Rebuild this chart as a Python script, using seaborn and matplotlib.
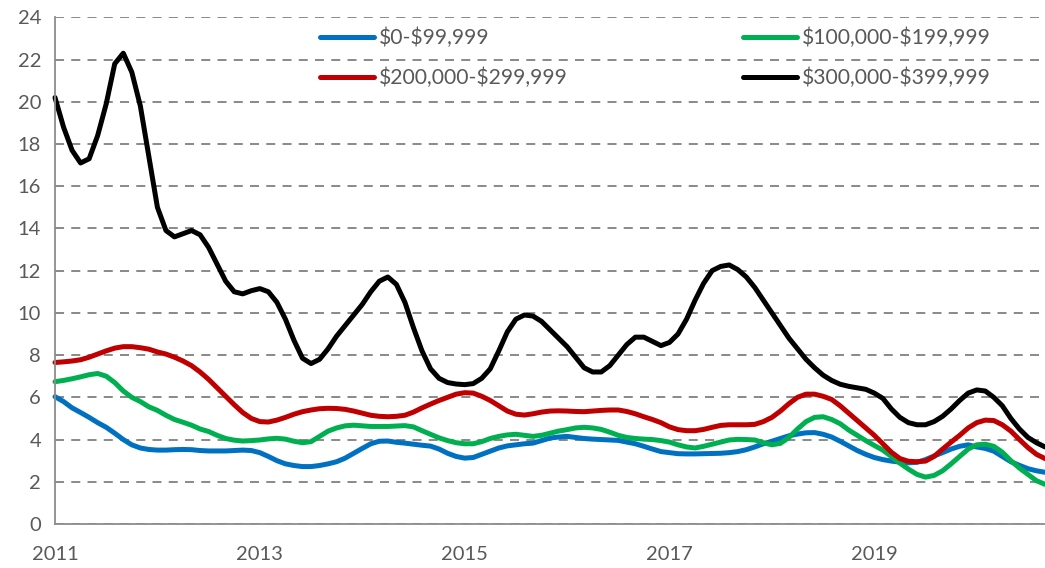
import numpy as np
import pandas as pd
import matplotlib
matplotlib.use("Agg")
import matplotlib.pyplot as plt
import seaborn as sns
from matplotlib.lines import Line2D

# ---- data (monthly, Jan 2011 .. Sep 2020) ----
start_year = 2011
n_months = 117

s0_99 = [6.03, 5.8, 5.5, 5.28, 5.05, 4.8, 4.58, 4.3, 4.0, 3.75, 3.6, 3.53,
         3.5, 3.5, 3.52, 3.53, 3.52, 3.48, 3.46, 3.46, 3.46, 3.48, 3.5, 3.48,
         3.38, 3.2, 3.0, 2.85, 2.77, 2.72, 2.72, 2.77, 2.85, 2.95, 3.12, 3.35,
         3.58, 3.8, 3.92, 3.93, 3.87, 3.83, 3.78, 3.73, 3.69, 3.55, 3.35, 3.2,
         3.12, 3.15, 3.3, 3.45, 3.6, 3.7, 3.75, 3.8, 3.83, 3.95, 4.07, 4.12,
         4.15, 4.1, 4.05, 4.02, 4.0, 3.98, 3.96, 3.88, 3.8, 3.68, 3.55, 3.43,
         3.38, 3.33, 3.32, 3.32, 3.33, 3.34, 3.35, 3.38, 3.43, 3.52, 3.65, 3.8,
         3.92, 4.05, 4.18, 4.26, 4.32, 4.33, 4.25, 4.12, 3.92, 3.7, 3.48, 3.3,
         3.15, 3.05, 2.98, 2.93, 2.9, 2.92, 3.05, 3.22, 3.38, 3.55, 3.68, 3.75,
         3.65, 3.58, 3.45, 3.2, 2.95, 2.78, 2.62, 2.52, 2.45]

s100_199 = [6.74, 6.8, 6.88, 6.97, 7.07, 7.13, 7.0, 6.7, 6.3, 6.0, 5.8, 5.55,
            5.38, 5.15, 4.95, 4.82, 4.68, 4.5, 4.38, 4.2, 4.05, 3.97, 3.93, 3.95,
            3.98, 4.03, 4.06, 4.02, 3.92, 3.85, 3.9, 4.15, 4.4, 4.55, 4.65, 4.68,
            4.65, 4.62, 4.62, 4.62, 4.64, 4.66, 4.6, 4.42, 4.25, 4.08, 3.95, 3.85,
            3.8, 3.8, 3.9, 4.05, 4.15, 4.22, 4.25, 4.2, 4.15, 4.2, 4.3, 4.4,
            4.47, 4.55, 4.58, 4.55, 4.48, 4.35, 4.2, 4.1, 4.05, 4.02, 4.0, 3.95,
            3.88, 3.75, 3.65, 3.6, 3.68, 3.78, 3.88, 3.98, 4.01, 4.0, 3.98, 3.85,
            3.75, 3.82, 4.1, 4.5, 4.85, 5.05, 5.08, 4.95, 4.75, 4.45, 4.2, 3.95,
            3.72, 3.5, 3.2, 2.88, 2.6, 2.35, 2.22, 2.3, 2.52, 2.85, 3.2, 3.55,
            3.75, 3.78, 3.68, 3.4, 3.0, 2.65, 2.35, 2.05, 1.88]

s200_299 = [7.65, 7.68, 7.72, 7.78, 7.9, 8.05, 8.2, 8.33, 8.4, 8.4, 8.35, 8.28,
            8.15, 8.05, 7.9, 7.72, 7.5, 7.2, 6.85, 6.45, 6.05, 5.65, 5.28, 5.0,
            4.85, 4.83, 4.92, 5.05, 5.2, 5.32, 5.4, 5.46, 5.48, 5.47, 5.43, 5.35,
            5.25, 5.15, 5.1, 5.08, 5.1, 5.15, 5.3, 5.5, 5.68, 5.85, 6.0, 6.15,
            6.22, 6.2, 6.05, 5.85, 5.6, 5.35, 5.2, 5.16, 5.22, 5.3, 5.35, 5.36,
            5.35, 5.33, 5.32, 5.35, 5.38, 5.4, 5.4, 5.33, 5.22, 5.08, 4.95, 4.8,
            4.6, 4.47, 4.42, 4.42, 4.48, 4.58, 4.67, 4.7, 4.7, 4.7, 4.72, 4.85,
            5.05, 5.35, 5.7, 6.0, 6.15, 6.15, 6.05, 5.9, 5.6, 5.25, 4.9, 4.55,
            4.2, 3.8, 3.4, 3.1, 2.97, 2.95, 2.98, 3.2, 3.55, 3.88, 4.2, 4.55,
            4.8, 4.92, 4.9, 4.7, 4.4, 4.0, 3.62, 3.3, 3.1]

s300_399 = [20.2, 18.8, 17.7, 17.1, 17.3, 18.4, 19.9, 21.8, 22.3, 21.4, 19.8, 17.4,
            15.0, 13.9, 13.6, 13.75, 13.9, 13.7, 13.1, 12.3, 11.5, 11.0, 10.9, 11.05,
            11.15, 11.0, 10.5, 9.7, 8.7, 7.85, 7.6, 7.8, 8.3, 8.9, 9.4, 9.9,
            10.4, 11.0, 11.5, 11.7, 11.35, 10.5, 9.3, 8.2, 7.35, 6.9, 6.7, 6.63,
            6.6, 6.65, 6.9, 7.35, 8.2, 9.1, 9.7, 9.9, 9.85, 9.6, 9.2, 8.8,
            8.4, 7.9, 7.4, 7.2, 7.2, 7.5, 8.0, 8.5, 8.85, 8.85, 8.65, 8.45,
            8.6, 9.0, 9.7, 10.6, 11.4, 12.0, 12.2, 12.27, 12.05, 11.7, 11.2, 10.6,
            10.0, 9.4, 8.8, 8.3, 7.8, 7.4, 7.05, 6.8, 6.62, 6.52, 6.45, 6.38,
            6.2, 5.95, 5.45, 5.05, 4.8, 4.7, 4.7, 4.85, 5.1, 5.45, 5.85, 6.2,
            6.35, 6.3, 6.0, 5.6, 5.0, 4.5, 4.1, 3.85, 3.65]

labels = ["$0-$99,999", "$100,000-$199,999", "$200,000-$299,999", "$300,000-$399,999"]
colors = ["#0070C0", "#00B050", "#C00000", "#000000"]
series = [s0_99, s100_199, s200_299, s300_399]

years_labeled = [2011, 2013, 2015, 2017, 2019]
y_ticks = list(range(0, 25, 2))

# ---- build long-form table ----
t = start_year + np.arange(n_months) / 12.0
frames = []
for lab, vals in zip(labels, series):
    frames.append(pd.DataFrame({"t": t, "value": vals, "band": lab}))
df = pd.concat(frames, ignore_index=True)

sns.set_theme(style="white")
plt.rcParams["font.family"] = ["Lato", "DejaVu Sans"]
plt.rcParams["text.parse_math"] = False

grey_text = "#595959"
axis_grey = "#8C8C8C"

fig = plt.figure(figsize=(10.45, 5.68), dpi=100)
ax = fig.add_axes([55 / 1045, 1 - 524 / 568, 990 / 1045, (524 - 17.3) / 568])

sns.lineplot(data=df, x="t", y="value", hue="band", hue_order=labels,
             palette=dict(zip(labels, colors)), linewidth=3.6, ax=ax,
             legend=False, sort=False, estimator=None)
for ln in ax.lines:
    ln.set_solid_capstyle("round")
    ln.set_solid_joinstyle("round")

ax.set_xlim(start_year, t[-1])
ax.set_ylim(0, 24)
ax.set_yticks(y_ticks)
ax.set_yticklabels([str(v) for v in y_ticks])
ax.set_xticks(list(range(2011, 2021)))
ax.set_xticklabels([str(y) if y in years_labeled else "" for y in range(2011, 2021)])
ax.set_xlabel("")
ax.set_ylabel("")

ax.yaxis.grid(True, linestyle=(0, (5, 4)), color="#808080", linewidth=1.3)
ax.xaxis.grid(False)
ax.set_axisbelow(True)
for side in ["top", "right"]:
    ax.spines[side].set_visible(False)
for side in ["left", "bottom"]:
    ax.spines[side].set_color(axis_grey)
    ax.spines[side].set_linewidth(1.3)

ax.tick_params(axis="both", which="both", direction="out", length=6, width=1.3,
               color=axis_grey, labelcolor=grey_text, labelsize=14.5, pad=4)
ax.tick_params(axis="x", pad=10)

# ---- legends (two columns placed like the original) ----
def make_handles(idx):
    return [Line2D([0], [0], color=colors[i], linewidth=3.6, solid_capstyle="round") for i in idx]

common = dict(frameon=False, fontsize=15.2, handlelength=2.55, handletextpad=0.25,
              labelspacing=0.9, borderpad=0, borderaxespad=0, loc="center left",
              labelcolor=grey_text)
leg1 = ax.legend(make_handles([0, 2]), [labels[0], labels[2]],
                 bbox_to_anchor=((320 - 55) / 990, (524 - 58) / 506.7), **common)
ax.add_artist(leg1)
leg2 = ax.legend(make_handles([1, 3]), [labels[1], labels[3]],
                 bbox_to_anchor=((743 - 55) / 990, (524 - 58) / 506.7), **common)

for spine in ax.spines.values():
    spine.set_clip_on(False)
for ln in ax.lines:
    ln.set_clip_on(False)

fig.savefig("out.png", dpi=100)
